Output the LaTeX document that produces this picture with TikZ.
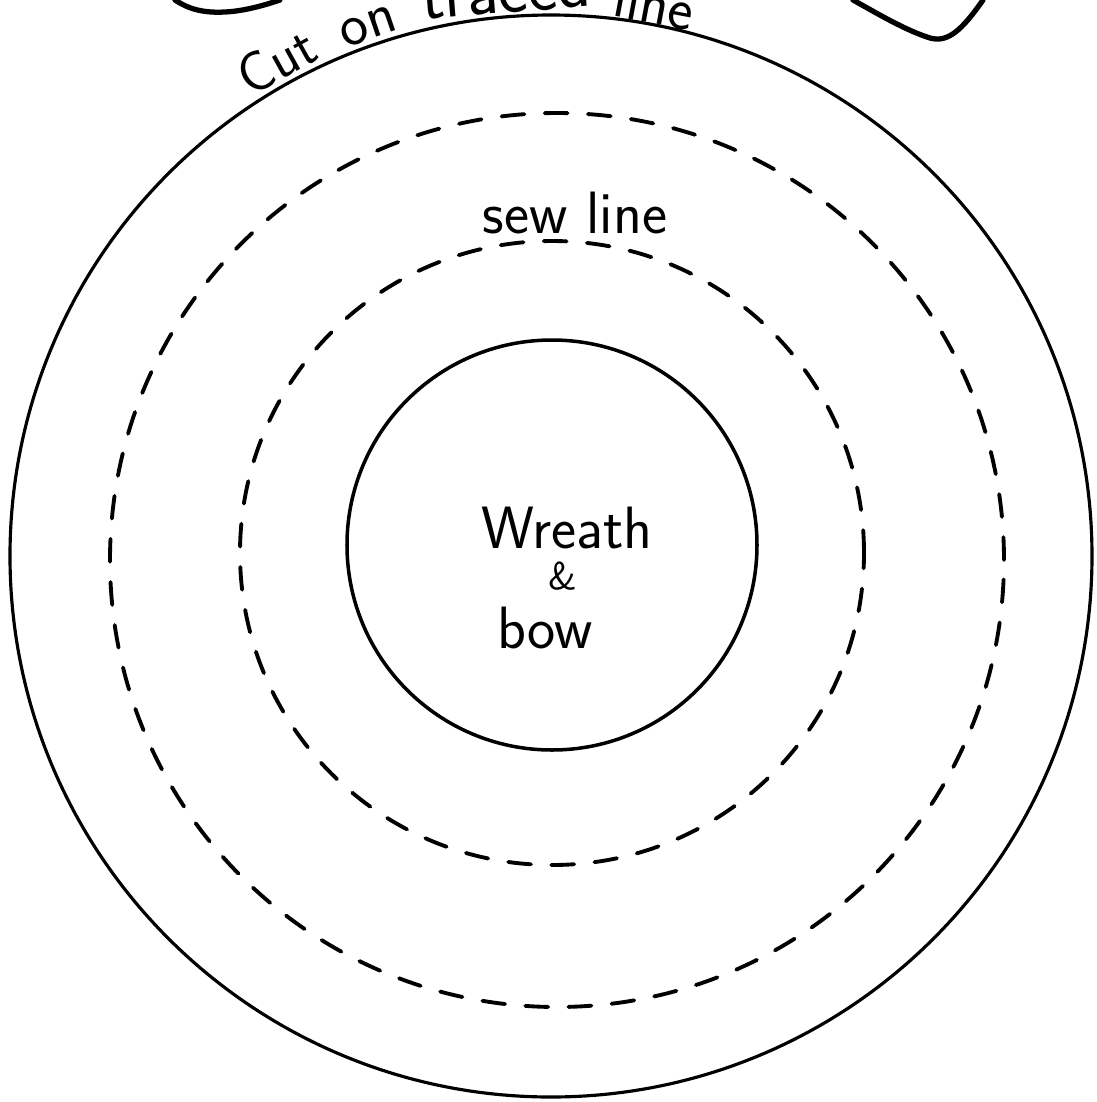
\documentclass[tikz,border=0pt]{standalone}
\usepackage{tikz}
\usetikzlibrary{positioning}

\tikzset{
  cutline/.style={line width=0.9pt, line cap=round},
  sewline/.style={line width=1.1pt, line cap=round, dash pattern=on 6.5pt off 5.8pt},
  piece/.style={line width=1.5pt, line cap=round},
  hand/.style={font=\sffamily\fontsize{17}{20}\selectfont, inner sep=0pt},
}

\begin{document}
\begin{tikzpicture}
        \useasboundingbox (0,0) rectangle (10.97,-11.02);
        \clip (0,0) rectangle (10.97,-11.02);

        \coordinate (c) at (5.51,-5.56);
        \coordinate (sewc) at (5.57,-5.60);
        \coordinate (inc) at (5.52,-5.53);
        \coordinate (wc) at (5.52,-5.45);

        % circles
        \draw[cutline] (c) circle (5.41);
        \draw[sewline] (sewc) circle (4.47);
        \draw[sewline] (inc) circle (3.12);
        \draw[cutline, line width=1pt] (wc) circle (2.05);

        % bits of the next pieces
        \draw[piece] (1.75,0) .. controls (1.90,-0.10) and (2.05,-0.13) .. (2.25,-0.12)
            .. controls (2.45,-0.11) and (2.65,-0.05) .. (2.80,0);
        \draw[piece] (8.53,0) .. controls (8.80,-0.15) and (9.05,-0.30) .. (9.30,-0.38)
            .. controls (9.48,-0.43) and (9.62,-0.30) .. (9.83,0);

        % labels
        \node[hand, font=\sffamily\fontsize{16}{19}\selectfont, anchor=base, rotate=29]
            (cut) at ([shift={(119:5.47)}]c) {Cut};
        \node[hand, anchor=base, rotate=19] (on) at ([shift={(109:5.47)}]c) {on};
        \node[hand, font=\sffamily\fontsize{20}{24}\selectfont, anchor=base, rotate=4.6]
            (traced) at ([shift={(94.6:5.45)}]c) {traced};
        \node[hand, anchor=base, rotate=-10.6] (line) at ([shift={(79.4:5.42)}]c) {line};

        \node[hand] (sew) at (5.75,-2.13) {sew line};
        \node[hand] (wreath) at (5.67,-5.28) {Wreath};
        \node[hand, font=\sffamily\fontsize{11}{12}\selectfont] (amp) at (5.63,-5.76) {\&};
        \node[hand] (bow) at (5.45,-6.28) {bow};
\end{tikzpicture}
\end{document}
